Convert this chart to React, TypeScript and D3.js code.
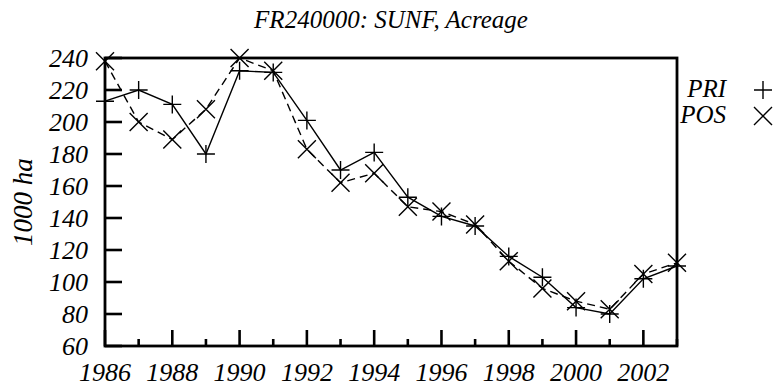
import React from "react";
import * as d3 from "d3";

// Sunflower acreage, FR240000 region (1000 ha)
const years = [1986, 1987, 1988, 1989, 1990, 1991, 1992, 1993, 1994, 1995, 1996, 1997, 1998, 1999, 2000, 2001, 2002, 2003];
const priValues = [213, 220, 211, 180, 232, 231, 201, 170, 181, 153, 141, 135, 116, 103, 84, 80, 102, 110];
const posValues = [238, 200, 189, 208, 240, 232, 183, 162, 168, 147, 144, 136, 113, 96, 88, 83, 105, 112];
const yTicks = [60, 80, 100, 120, 140, 160, 180, 200, 220, 240];
const xLabelYears = [1986, 1988, 1990, 1992, 1994, 1996, 1998, 2000, 2002];
const seriesNames = ["PRI", "POS"];

const W = 776;
const H = 391;
const left = 105;
const right = 677;
const top = 58;
const bottom = 346;
const FONT = "'Liberation Serif', 'Times New Roman', Times, serif";
const MS = 9; // marker half-size
const LW = 1.4; // data line width

function Plus({ x, y }: { x: number; y: number }) {
  return <path d={`M${x - MS},${y}H${x + MS}M${x},${y - MS}V${y + MS}`} stroke="#000" strokeWidth={LW} fill="none" />;
}
function Cross({ x, y }: { x: number; y: number }) {
  return <path d={`M${x - MS},${y - MS}L${x + MS},${y + MS}M${x - MS},${y + MS}L${x + MS},${y - MS}`} stroke="#000" strokeWidth={LW} fill="none" />;
}

export default function App() {
  const x = d3.scaleLinear().domain([1986, 2003]).range([left, right]);
  const y = d3.scaleLinear().domain([60, 240]).range([bottom, top]);
  const line = d3.line<number>().x((_, i) => x(years[i])).y((d) => y(d));
  const textStyle = { fontFamily: FONT, fontStyle: "italic" as const };

  return (
    <svg width={W} height={H} style={{ position: "absolute", left: 0, top: 0, background: "#fff" }}>
      <g style={textStyle}>
        <text x={(left + right) / 2} y={28} textAnchor="middle" fontSize={25}>FR240000: SUNF, Acreage</text>

        {yTicks.map((t) => (
          <text key={t} x={88} y={y(t)} dy="0.34em" textAnchor="end" fontSize={26}>{t}</text>
        ))}
        {xLabelYears.map((yr) => (
          <text key={yr} x={x(yr)} y={381} textAnchor="middle" fontSize={26}>{yr}</text>
        ))}
        <text transform={`translate(32,${(top + bottom) / 2}) rotate(-90)`} textAnchor="middle" fontSize={27}>1000 ha</text>

        <text x={726} y={97} textAnchor="end" fontSize={25}>{seriesNames[0]}</text>
        <text x={726} y={123} textAnchor="end" fontSize={25}>{seriesNames[1]}</text>
      </g>

      {/* y ticks */}
      {yTicks.map((t) => (
        <line key={t} x1={left} x2={left + 17} y1={y(t)} y2={y(t)} stroke="#000" strokeWidth={2.6} />
      ))}
      {/* x ticks: long on even years, short on odd */}
      {years.map((yr) => (
        <line key={yr} x1={x(yr)} x2={x(yr)} y1={bottom} y2={bottom - (yr % 2 === 0 ? 16 : 7)} stroke="#000" strokeWidth={2.6} />
      ))}

      {/* series */}
      <path d={line(priValues) || ""} fill="none" stroke="#000" strokeWidth={LW} />
      <path d={line(posValues) || ""} fill="none" stroke="#000" strokeWidth={LW} strokeDasharray="8,5" />
      {priValues.map((v, i) => <Plus key={"p" + i} x={x(years[i])} y={y(v)} />)}
      {posValues.map((v, i) => <Cross key={"c" + i} x={x(years[i])} y={y(v)} />)}

      {/* frame */}
      <rect x={left} y={top} width={right - left} height={bottom - top} fill="none" stroke="#000" strokeWidth={2.8} />

      {/* legend markers */}
      <Plus x={763} y={90} />
      <Cross x={763} y={116} />
    </svg>
  );
}
